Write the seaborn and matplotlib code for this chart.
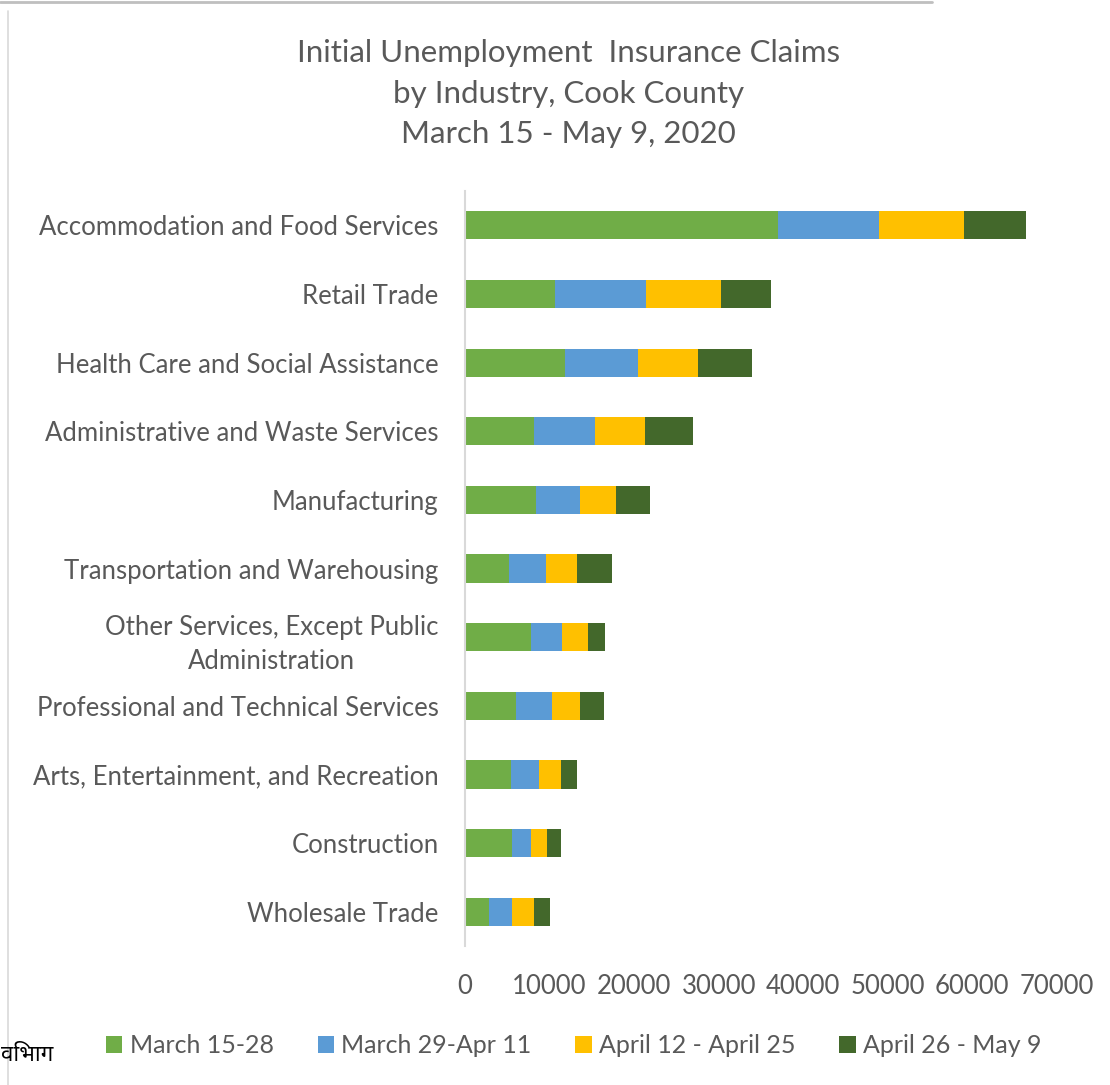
import matplotlib
matplotlib.use("Agg")
import matplotlib.pyplot as plt
from matplotlib.patches import Patch
from matplotlib.lines import Line2D
import seaborn as sns
import numpy as np
import pandas as pd

categories = [
    "Accommodation and Food Services",
    "Retail Trade",
    "Health Care and Social Assistance",
    "Administrative and Waste Services",
    "Manufacturing",
    "Transportation and Warehousing",
    "Other Services, Except Public\nAdministration",
    "Professional and Technical Services",
    "Arts, Entertainment, and Recreation",
    "Construction",
    "Wholesale Trade",
]
series_names = ["March 15-28", "March 29-Apr 11", "April 12 - April 25", "April 26 - May 9"]
march_15_28 = [37000, 10600, 11800, 8200, 8400, 5200, 7800, 6000, 5400, 5600, 2800]
march_29_apr_11 = [12000, 10800, 8700, 7200, 5200, 4400, 3700, 4300, 3300, 2200, 2800]
april_12_25 = [10000, 8900, 7000, 5900, 4300, 3700, 3000, 3300, 2600, 1900, 2500]
april_26_may_9 = [7400, 5900, 6500, 5700, 4000, 4100, 2000, 2800, 1900, 1700, 2000]
x_ticks = [0, 10000, 20000, 30000, 40000, 50000, 60000, 70000]
colors = ["#70AD47", "#5B9BD5", "#FFC000", "#43682B"]

sns.set_theme(style="white")
plt.rcParams["font.family"] = ["Lato", "DejaVu Sans"]

df = pd.DataFrame({"Industry": categories})
stack = np.array([march_15_28, march_29_apr_11, april_12_25, april_26_may_9])
cum = np.cumsum(stack, axis=0)

fig = plt.figure(figsize=(11.10, 10.85), dpi=100)
ax = fig.add_axes([0.419, 0.128, 0.533, 0.696])

for i in range(3, -1, -1):
    df["v"] = cum[i]
    sns.barplot(data=df, x="v", y="Industry", orient="h", color=colors[i],
                width=0.41, saturation=1, ax=ax, edgecolor="none", linewidth=0)

ax.set_xlim(0, 70000)
ax.set_ylim(10.5, -0.5)
ax.set_xticks(x_ticks)
ax.set_xticklabels([str(t) for t in x_ticks])
ax.set_xlabel("")
ax.set_ylabel("")
for s in ["top", "right", "bottom"]:
    ax.spines[s].set_visible(False)
ax.spines["left"].set_color("#D9D9D9")
ax.spines["left"].set_linewidth(1.5)
ax.tick_params(axis="both", length=0, colors="#595959", labelsize=18.5)
ax.tick_params(axis="x", pad=20)
ax.tick_params(axis="y", pad=19)
for lab in ax.get_yticklabels():
    lab.set_multialignment("center")
    lab.set_linespacing(1.45)

fig.text(0.512, 0.964, "Initial Unemployment  Insurance Claims\nby Industry, Cook County\nMarch 15 - May 9, 2020",
         ha="center", va="top", fontsize=22.5, color="#595959", linespacing=1.55)

handles = [Patch(facecolor=c, edgecolor="none") for c in colors]
fig.legend(handles, series_names, loc="center", bbox_to_anchor=(0.517, 0.036), ncol=4,
           frameon=False, fontsize=18, handlelength=0.65, handleheight=0.65,
           handletextpad=0.3, columnspacing=1.75, labelcolor="#595959")

fig.text(0.001, 0.027, "विभाग", ha="left", va="center", fontsize=16, color="black",
         fontweight="bold", family=["Noto Sans", "DejaVu Sans"])

fig.add_artist(Line2D([0.0, 0.84], [0.998, 0.998], transform=fig.transFigure, color="#BFBFBF", lw=2))
fig.add_artist(Line2D([0.007, 0.007], [0.0, 0.99], transform=fig.transFigure, color="#D9D9D9", lw=1.2))

fig.savefig("out.png", dpi=100, facecolor="white")
